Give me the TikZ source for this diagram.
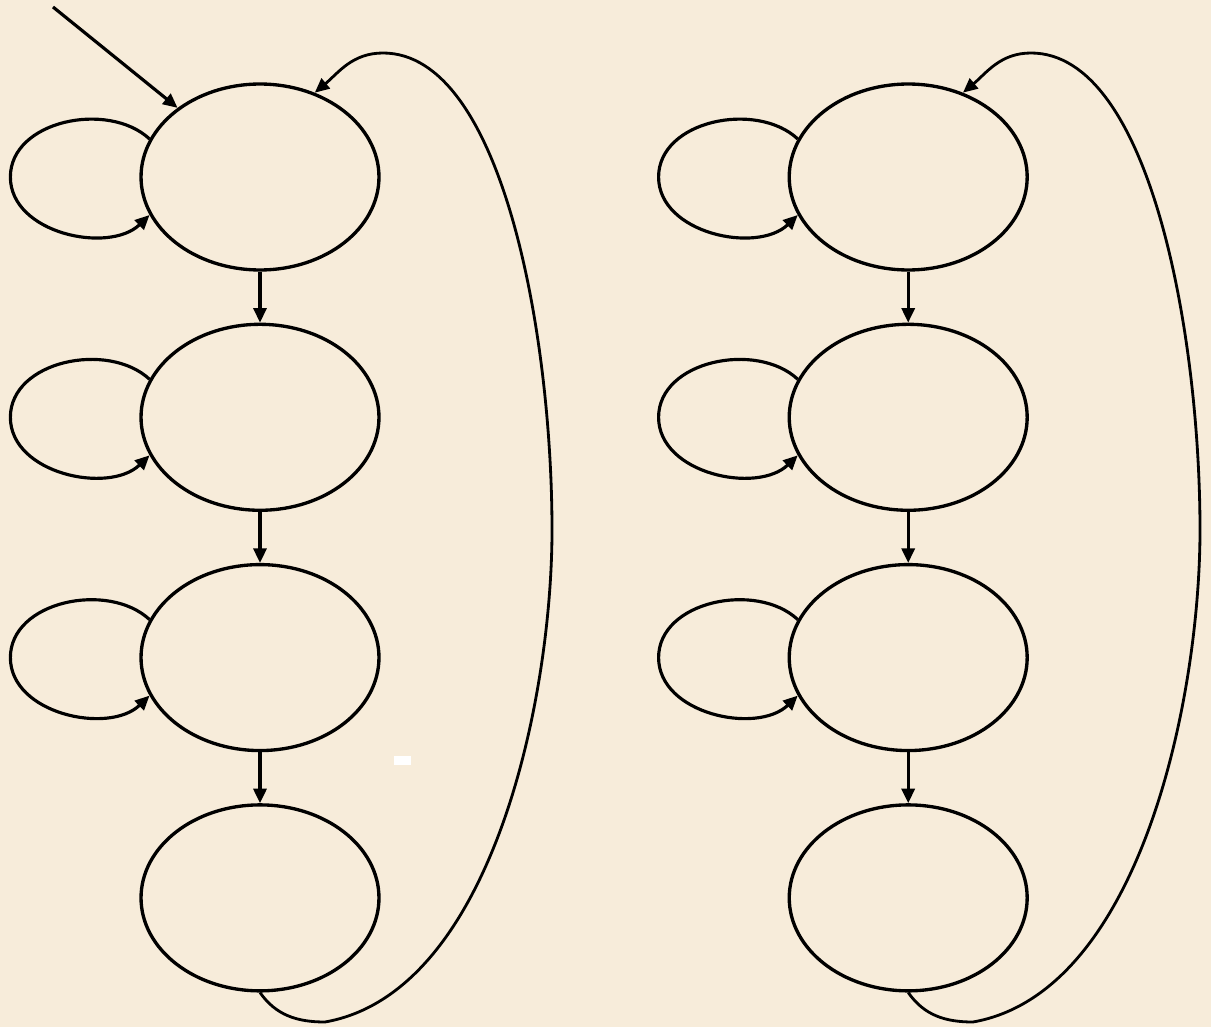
\documentclass[tikz,border=0pt]{standalone}
\usepackage{xcolor}
\definecolor{Paper}{HTML}{F7ECDA}
\definecolor{Ink}{HTML}{000000}
\usetikzlibrary{arrows.meta,positioning,shapes.geometric}

\begin{document}
\begin{tikzpicture}[x=0.02cm,y=-0.02cm,
  state/.style={ellipse,draw=Ink,line width=1.9pt,minimum width=4.76cm,minimum height=3.72cm,inner sep=0pt},
  arrow/.style={-{Triangle[length=2.9mm,width=2.6mm]},line width=1.8pt,color=Ink},
  selfloop/.style={arrow,line width=1.8pt},
  back/.style={arrow,line width=1.6pt}
]
\fill[Paper] (0,0) rectangle (1211,1027);
\fill[white] (394,756) rectangle (411,765);
% left machine
\node[state] at (260,177) (a1) {};
\node[state,below=1.02cm of a1] (a2) {};
\node[state,below=1.02cm of a2] (a3) {};
\node[state,below=1.02cm of a3] (a4) {};
% right machine
\node[state,right=8.14cm of a1] (b1) {};
\node[state,below=1.02cm of b1] (b2) {};
\node[state,below=1.02cm of b2] (b3) {};
\node[state,below=1.02cm of b3] (b4) {};
\coordinate (init) at (53,7);
\coordinate (abot) at (325,1022);
\coordinate (aright) at (552,530);
\coordinate (atop) at (383,53);
\coordinate (bbot) at (973,1022);
\coordinate (bright) at (1200,530);
\coordinate (btop) at (1031,53);
\draw[arrow] (init)--(a1.140);
\draw[arrow] (a1.south)--(a2.north);
\draw[arrow] (a2.south)--(a3.north);
\draw[arrow] (a3.south)--(a4.north);
\draw[arrow] (b1.south)--(b2.north);
\draw[arrow] (b2.south)--(b3.north);
\draw[arrow] (b3.south)--(b4.north);
\foreach \s in {a1,a2,a3,b1,b2,b3}
  \draw[selfloop] (\s.161) to[out=137,in=90] ([xshift=-2.58cm]\s.west) to[out=-90,in=224] (\s.199);
\draw[back] (a4.south) to[out=-55,in=180] (abot) to[out=10,in=-90,looseness=0.8] (aright)
  to[out=90,in=0,out looseness=1,in looseness=0.6] (atop) to[out=180,in=40] (a1.57);
\draw[back] (b4.south) to[out=-55,in=180] (bbot) to[out=10,in=-90,looseness=0.8] (bright)
  to[out=90,in=0,out looseness=1,in looseness=0.6] (btop) to[out=180,in=40] (b1.57);
\end{tikzpicture}
\end{document}
